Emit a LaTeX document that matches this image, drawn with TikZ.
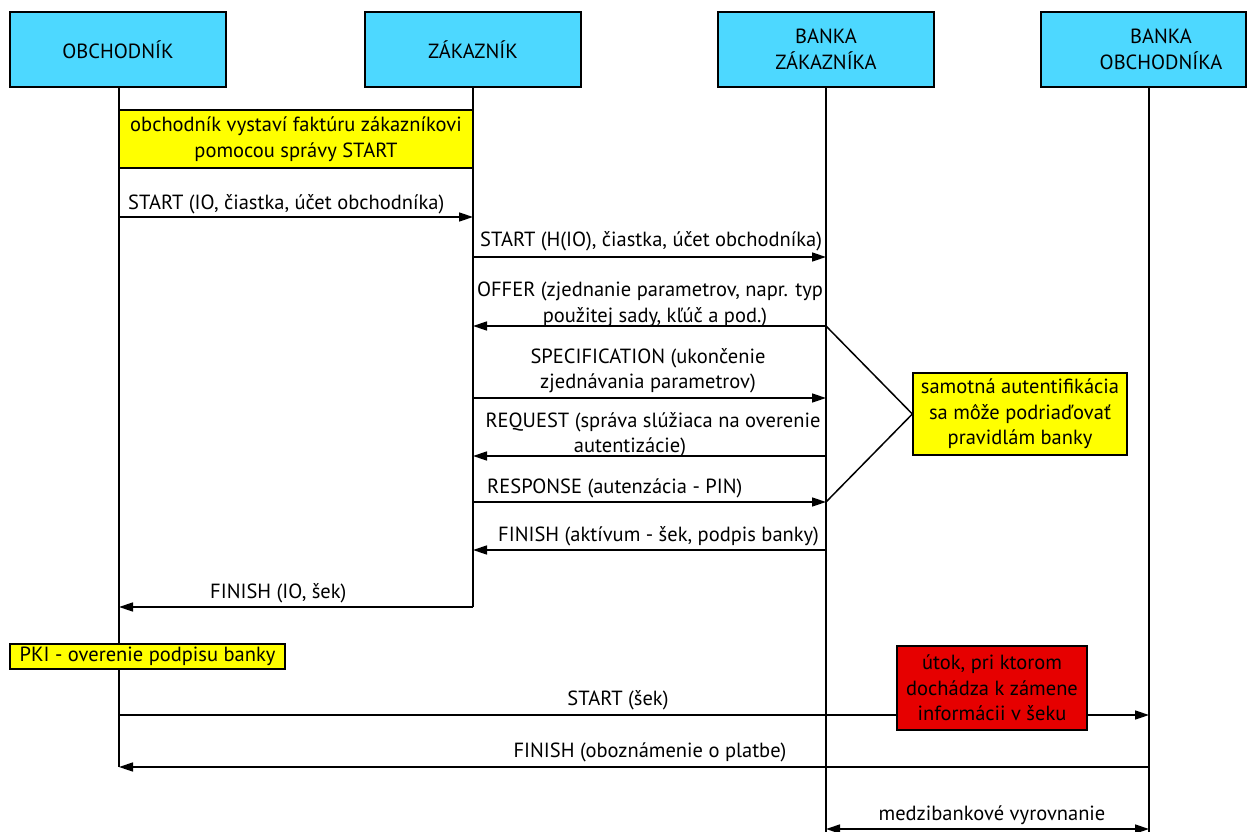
\documentclass[tikz,border=0pt]{standalone}
\usepackage{fontspec}
\setmainfont{PT Sans}
\usetikzlibrary{arrows.meta}
\definecolor{boxcyan}{RGB}{77,216,255}
\definecolor{noteyellow}{RGB}{255,255,0}
\definecolor{attackred}{RGB}{230,0,0}
\newcommand{\lblfont}{\fontsize{20.5}{25.5}\selectfont}
\begin{document}
\begin{tikzpicture}[x=1pt,y=-1pt,
  actor/.style={draw, line width=1.3pt, fill=boxcyan, minimum width=216pt, minimum height=75pt, font=\lblfont, align=center, inner sep=0pt},
  life/.style={line width=1.5pt},
  msg/.style={line width=1.5pt, -{Triangle[length=14pt,width=9pt]}},
  dmsg/.style={line width=1.5pt, {Triangle[length=14pt,width=9pt]}-{Triangle[length=14pt,width=9pt]}},
  lbl/.style={font=\lblfont, inner sep=0pt, align=center},
  note/.style={draw, line width=1.3pt, fill=noteyellow, font=\lblfont, align=center, inner sep=0pt},
  link/.style={line width=1.5pt}]
\useasboundingbox (0,0) rectangle (1247,832);
\fill[white] (0,0) rectangle (1247,832);

% actors
\node[actor] (A) at (118,49.5) {OBCHODNÍK};
\node[actor] (B) at (473,49.5) {ZÁKAZNÍK};
\node[actor] (C) at (826,49.5) {BANKA\\ZÁKAZNÍKA};
\node[actor, minimum width=205pt] (D) at (1143.5,49.5) {};
\node[lbl] (Dt) at (1161,49.5) {BANKA\\OBCHODNÍKA};

% lifeline ends
\coordinate (Atop) at (119,87);
\coordinate (Btop) at (473,87);
\coordinate (Ctop) at (826,87);
\coordinate (Dtop) at (1149,87);
\coordinate (Aend) at (119,767);
\coordinate (Bend) at (473,607);
\coordinate (Cend) at (826,840);
\coordinate (Dend) at (1149,840);
\draw[life] (Atop) -- (Aend);
\draw[life] (Btop) -- (Bend);
\draw[life] (Ctop) -- (Cend);
\draw[life] (Dtop) -- (Dend);

% message points
\coordinate (a1) at (119,217);  \coordinate (b1) at (473,217);
\coordinate (b2) at (473,257);  \coordinate (c2) at (826,257);
\coordinate (b3) at (473,326);  \coordinate (c3) at (826,326);
\coordinate (b4) at (473,398);  \coordinate (c4) at (826,398);
\coordinate (b5) at (473,456);  \coordinate (c5) at (826,456);
\coordinate (b6) at (473,502);  \coordinate (c6) at (826,502);
\coordinate (b7) at (473,550);  \coordinate (c7) at (826,550);
\coordinate (a8) at (119,607);  \coordinate (b8) at (473,607);
\coordinate (a9) at (119,715);  \coordinate (d9) at (1149,715);
\coordinate (a10) at (119,767); \coordinate (d10) at (1149,767);
\coordinate (c11) at (826,829); \coordinate (d11) at (1149,829);

% note 1
\node[note, minimum width=354pt, minimum height=58pt] (n1) at (296,139)
  {obchodník vystaví faktúru zákazníkovi\\pomocou správy START};

% messages
\draw[msg] (a1) -- (b1);
\node[lbl, anchor=base west] (l1) at (128,209) {START (IO, čiastka, účet obchodníka)};
\draw[msg] (b2) -- (c2);
\node[lbl, anchor=base west] (l2) at (480,246) {START (H(IO), čiastka, účet obchodníka)};
\draw[msg] (c3) -- (b3);
\node[lbl, anchor=base] (l3) at (650,296) {OFFER (zjednanie parametrov, napr. typ};
\node[lbl, anchor=base] (l3b) at (655,322) {použitej sady, kľúč a pod.)};
\draw[msg] (b4) -- (c4);
\node[lbl, anchor=base] (l4) at (648,363) {SPECIFICATION (ukončenie};
\node[lbl, anchor=base] (l4b) at (648,388) {zjednávania parametrov)};
\draw[msg] (c5) -- (b5);
\node[lbl, anchor=base] (l5) at (653,427) {REQUEST (správa slúžiaca na overenie};
\node[lbl, anchor=base] (l5b) at (630,452) {autentizácie)};
\draw[msg] (b6) -- (c6);
\node[lbl, anchor=base west] (l6) at (487,493) {RESPONSE (autenzácia - PIN)};
\draw[msg] (c7) -- (b7);
\node[lbl, anchor=base west] (l7) at (498,541) {FINISH (aktívum - šek, podpis banky)};
\draw[msg] (b8) -- (a8);
\node[lbl, anchor=base west] (l8) at (210,598) {FINISH (IO, šek)};

% authentication note
\node[note, minimum width=214pt, minimum height=82pt] (n2) at (1020,414)
  {samotná autentifikácia\\sa môže podriaďovať\\pravidlám banky};
\draw[link] (c3) -- (n2.west) -- (c6);

% PKI note
\node[note, minimum width=275pt, minimum height=25pt] (n3) at (147.5,656.5)
  {PKI - overenie podpisu banky};

% START (šek)
\draw[msg] (a9) -- (d9);
\node[lbl, anchor=base] (l9) at (618,705) {START (šek)};
\node[draw, line width=1.3pt, fill=attackred, font=\lblfont, align=center, inner sep=0pt,
  minimum width=190pt, minimum height=84pt] (att) at (992,688)
  {útok, pri ktorom\\dochádza k zámene\\informácii v šeku};

% FINISH (oboznámenie)
\draw[msg] (d10) -- (a10);
\node[lbl, anchor=base] (l10) at (650,757) {FINISH (oboznámenie o platbe)};

% interbank
\draw[dmsg] (c11) -- (d11);
\node[lbl, anchor=base] (l11) at (992,820) {medzibankové vyrovnanie};
\end{tikzpicture}
\end{document}
